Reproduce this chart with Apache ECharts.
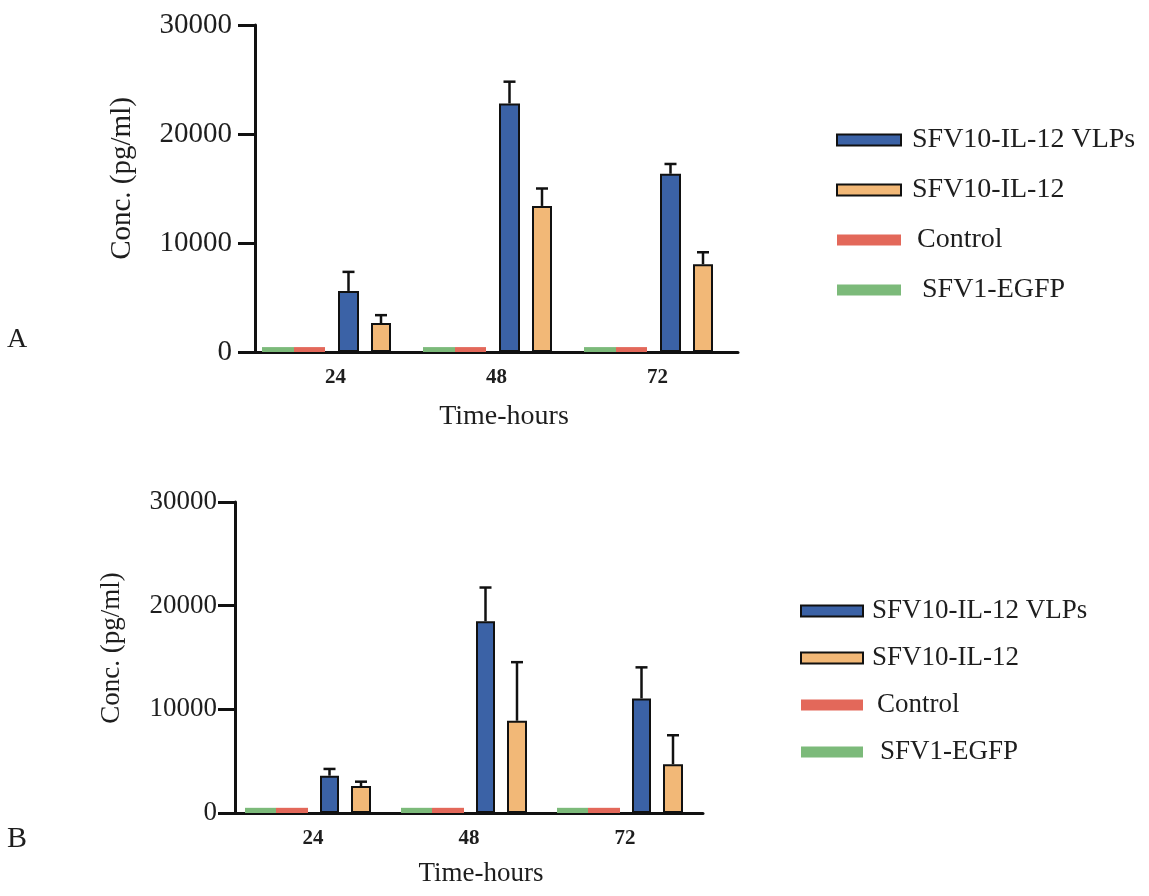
<!DOCTYPE html>
<html>
<head>
<meta charset="utf-8">
<script src="https://cdn.jsdelivr.net/npm/echarts@6/dist/echarts.min.js"></script>
<style>
html,body{margin:0;padding:0;background:#fff;}
#chart{width:1149px;height:896px;}
</style>
</head>
<body>
<div id="chart"></div>
<script>
// ---- data ----
const categories = ['24', '48', '72'];
const seriesNames = ['SFV10-IL-12 VLPs', 'SFV10-IL-12', 'Control', 'SFV1-EGFP'];
const yTicks = [0, 10000, 20000, 30000];

// Panel A
const vlpA = [5600, 22800, 16350];
const vlpErrA = [1750, 2000, 900];
const il12A = [2650, 13400, 8050];
const il12ErrA = [730, 1600, 1100];
const controlA = [450, 450, 450];
const egfpA = [450, 450, 450];

// Panel B
const vlpB = [3600, 18500, 11050];
const vlpErrB = [650, 3250, 3000];
const il12B = [2600, 8900, 4700];
const il12ErrB = [420, 5650, 2800];
const controlB = [500, 500, 500];
const egfpB = [500, 500, 500];

// ---- style ----
const COL = {vlp: '#3b62a6', il12: '#f2b877', control: '#e3685a', egfp: '#7cba7a'};
const FONT = 'Liberation Serif';
const TXT = '#1e1e1e';

// slot widths (px) per group: egfp, control, gap, vlp, gap, il12, tail
const slotsA = [32, 31, 13, 21, 12, 20, 18];
const slotsB = [31, 32, 12, 19, 12, 20, 10];

function centerOffset(slots, idx) {
  const total = slots.reduce((a, b) => a + b, 0);
  let x = -total / 2;
  for (let k = 0; k < idx; k++) x += slots[k];
  return x + slots[idx] / 2;
}

function errRenderer(offsetX) {
  return function (params, api) {
    const i = api.value(0), m = api.value(1), e = api.value(2);
    const p0 = api.coord([i, m]);
    const p1 = api.coord([i, m + e]);
    const x = p0[0] + offsetX;
    const st = {stroke: '#111', lineWidth: 2.5};
    return {
      type: 'group',
      children: [
        {type: 'line', shape: {x1: x, y1: p0[1], x2: x, y2: p1[1]}, style: st},
        {type: 'line', shape: {x1: x - 6, y1: p1[1], x2: x + 6, y2: p1[1]}, style: st}
      ]
    };
  };
}

function panelSeries(gi, slots, egfp, control, vlp, vlpErr, il12, il12Err) {
  const common = {type: 'bar', xAxisIndex: gi, yAxisIndex: gi, barGap: '0%', animation: false};
  const spacer = (w) => Object.assign({}, common, {name: '', data: categories.map(() => null), barWidth: w, silent: true});
  return [
    Object.assign({}, common, {name: seriesNames[3], data: egfp, barWidth: slots[0], itemStyle: {color: COL.egfp}}),
    Object.assign({}, common, {name: seriesNames[2], data: control, barWidth: slots[1], itemStyle: {color: COL.control}}),
    spacer(slots[2]),
    Object.assign({}, common, {name: seriesNames[0], data: vlp, barWidth: slots[3], itemStyle: {color: COL.vlp, borderColor: '#111', borderWidth: 2}}),
    spacer(slots[4]),
    Object.assign({}, common, {name: seriesNames[1], data: il12, barWidth: slots[5], itemStyle: {color: COL.il12, borderColor: '#111', borderWidth: 2}}),
    spacer(slots[6]),
    {
      type: 'custom', xAxisIndex: gi, yAxisIndex: gi, z: 5, silent: true,
      renderItem: errRenderer(centerOffset(slots, 3)),
      data: vlp.map((v, i) => [i, v, vlpErr[i]])
    },
    {
      type: 'custom', xAxisIndex: gi, yAxisIndex: gi, z: 5, silent: true,
      renderItem: errRenderer(centerOffset(slots, 5)),
      data: il12.map((v, i) => [i, v, il12Err[i]])
    }
  ];
}

function xAxisCfg(gi, labelSize, nameGap, namePadLeft, nameSize) {
  return {
    type: 'category', gridIndex: gi, data: categories,
    axisLine: {show: true, lineStyle: {color: '#111', width: 3}},
    axisTick: {show: false},
    axisLabel: {fontFamily: FONT, fontSize: labelSize, color: TXT, margin: 15, fontWeight: 'bold'},
    name: 'Time-hours', nameLocation: 'middle', nameGap: nameGap,
    nameTextStyle: {fontFamily: FONT, fontSize: nameSize, color: TXT, padding: [0, 0, 0, namePadLeft]}
  };
}

function yAxisCfg(gi, labelSize, margin, nameGap, namePadLeft, nameSize) {
  return {
    type: 'value', gridIndex: gi, min: yTicks[0], max: yTicks[yTicks.length - 1], interval: 10000,
    axisLine: {show: true, lineStyle: {color: '#111', width: 3}},
    axisTick: {show: true, inside: false, length: 17, lineStyle: {color: '#111', width: 3}},
    splitLine: {show: false},
    axisLabel: {fontFamily: FONT, fontSize: labelSize, color: TXT, margin: margin, formatter: (v) => String(v)},
    name: 'Conc. (pg/ml)', nameLocation: 'middle', nameGap: nameGap,
    nameTextStyle: {fontFamily: FONT, fontSize: nameSize, color: TXT, padding: [0, 0, 0, namePadLeft]}
  };
}

function legendCfg(left, top, gap, iw, pads, size) {
  const keys = ['a', 'b', 'c', 'd'];
  const rich = {};
  keys.forEach((k, i) => { rich[k] = {fontFamily: FONT, fontSize: size, color: TXT, padding: [0, 0, 0, pads[i]], lineHeight: 30}; });
  return {
    data: seriesNames, orient: 'vertical', left: left, top: top, itemGap: gap,
    itemWidth: iw, itemHeight: 11, icon: 'rect',
    formatter: (name) => '{' + keys[seriesNames.indexOf(name)] + '|' + name + '}',
    textStyle: {fontFamily: FONT, fontSize: size, color: TXT, lineHeight: 30, rich: rich},
    selectedMode: false
  };
}

const chart = echarts.init(document.getElementById('chart'), null, {renderer: 'canvas'});
chart.setOption({
  backgroundColor: '#ffffff',
  animation: false,
  grid: [
    {left: 255, top: 25, width: 483, height: 327},
    {left: 235, top: 502, width: 468, height: 311}
  ],
  xAxis: [xAxisCfg(0, 21, 51, 15, 28), xAxisCfg(1, 21, 47, 24, 27)],
  yAxis: [yAxisCfg(0, 29, 23, 118, 20, 29), yAxisCfg(1, 27, 18, 110, 19, 27)],
  legend: [
    legendCfg(831, 120, 20, 64, [6, 6, 11, 16], 28),
    legendCfg(795, 591, 17, 62, [4, 4, 9, 12], 27)
  ],
  graphic: [
    {type: 'text', left: 7, top: 326, style: {text: 'A', fontFamily: FONT, fontSize: 28, fill: TXT}},
    {type: 'text', left: 7, top: 824, style: {text: 'B', fontFamily: FONT, fontSize: 30, fill: TXT}}
  ],
  series: [].concat(
    panelSeries(0, slotsA, egfpA, controlA, vlpA, vlpErrA, il12A, il12ErrA),
    panelSeries(1, slotsB, egfpB, controlB, vlpB, vlpErrB, il12B, il12ErrB)
  )
});
</script>
</body>
</html>
